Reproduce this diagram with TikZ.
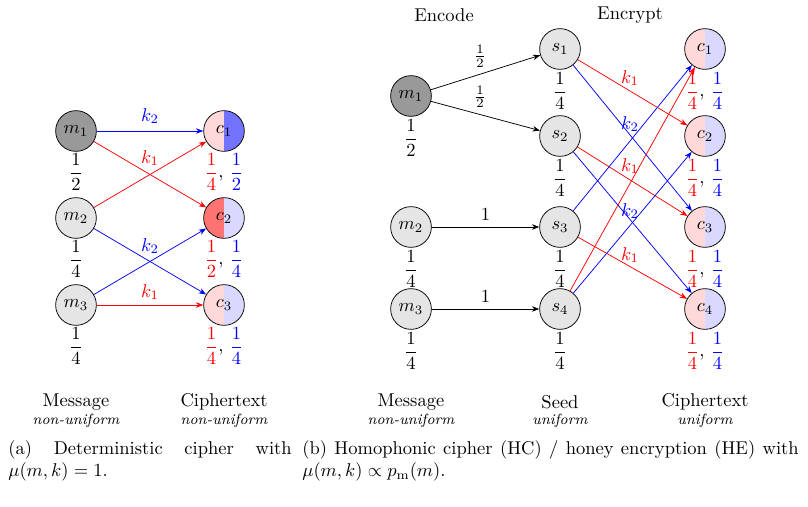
\documentclass[tikz,border=0pt]{standalone}
\usetikzlibrary{arrows.meta}
\begin{document}
\begin{tikzpicture}[x=0.54pt,y=-0.54pt,
  nd/.style={circle,draw,minimum size=22pt,inner sep=0pt,fill=gray!20},
  cnode/.style 2 args={circle,draw,minimum size=22pt,inner sep=0pt,
    path picture={\fill[#1] (path picture bounding box.south west) rectangle (path picture bounding box.north);
                  \fill[#2] (path picture bounding box.south) rectangle (path picture bounding box.north east);}},
  rd/.style={-{Stealth[length=4pt]},draw=red},
  bl/.style={-{Stealth[length=4pt]},draw=blue},
  ar/.style={-{Stealth[length=4pt]},draw=black}]
\useasboundingbox (0,0) rectangle (808,507);
\newcommand{\fr}[2]{\displaystyle\frac{#1}{#2}}
% ---- left
\node[nd,fill=gray!80] (lm1) at (76,131) {$m_1$};
\node[nd] (lm2) at (76,218) {$m_2$};
\node[nd] (lm3) at (76,305) {$m_3$};
\node[cnode={red!15}{blue!55}] (lc1) at (224,131) {$c_1$};
\node[cnode={red!55}{blue!15}] (lc2) at (224,218) {$c_2$};
\node[cnode={red!15}{blue!15}] (lc3) at (224,305) {$c_3$};
\node (lf1) at (76,172) {$\fr{1}{2}$};
\node (lf2) at (76,259) {$\fr{1}{4}$};
\node (lf3) at (76,346) {$\fr{1}{4}$};
\node (lg1) at (224,172) {$\color{red}\fr{1}{4}$, $\color{blue}\fr{1}{2}$};
\node (lg2) at (224,259) {$\color{red}\fr{1}{2}$, $\color{blue}\fr{1}{4}$};
\node (lg3) at (224,346) {$\color{red}\fr{1}{4}$, $\color{blue}\fr{1}{4}$};
\draw[bl] (lm1) -- (lc1);
\draw[rd] (lm1) -- (lc2);
\draw[rd] (lm2) -- (lc1);
\draw[bl] (lm2) -- (lc3);
\draw[bl] (lm3) -- (lc2);
\draw[rd] (lm3) -- (lc3);
\node[text=blue] (lk0) at (150,116) {$k_2$};
\node[text=red] (lk1) at (150,158) {$k_1$};
\node[text=blue] (lk2) at (150,246) {$k_2$};
\node[text=red] (lk3) at (150,292) {$k_1$};
\node (lt1) at (76,402) {Message};
\node (lt1b) at (76,421) {\footnotesize\itshape non-uniform};
\node (lt2) at (224,402) {Ciphertext};
\node (lt2b) at (224,421) {\footnotesize\itshape non-uniform};
% ---- right
\node (enc) at (444,15) {Encode};
\node (ecr) at (630,15) {Encrypt};
\node[nd,fill=gray!80] (m1) at (411,96) {$m_1$};
\node[nd] (m2) at (411,227) {$m_2$};
\node[nd] (m3) at (411,309) {$m_3$};
\foreach \i/\y in {1/49,2/136,3/227,4/309}{
  \node[nd] (s\i) at (560,\y) {$s_\i$};
  \node[cnode={red!15}{blue!15}] (c\i) at (705,\y) {$c_\i$};
  \node (sf\i) at (560,\y+42) {$\fr{1}{4}$};
  \node (cf\i) at (705,\y+42) {$\color{red}\fr{1}{4}$, $\color{blue}\fr{1}{4}$};
}
\node (mf1) at (411,138) {$\fr{1}{2}$};
\node (mf2) at (411,269) {$\fr{1}{4}$};
\node (mf3) at (411,351) {$\fr{1}{4}$};
\draw[ar] (m1) -- node[above,pos=0.45]{$\frac{1}{2}$} (s1);
\draw[ar] (m1) -- node[above,pos=0.45]{$\frac{1}{2}$} (s2);
\draw[ar] (m2) -- node[above]{1} (s3);
\draw[ar] (m3) -- node[above]{1} (s4);
\draw[rd] (s1) -- (c2);
\draw[bl] (s1) -- (c3);
\draw[rd] (s2) -- (c3);
\draw[bl] (s2) -- (c4);
\draw[rd] (s3) -- (c4);
\draw[bl] (s3) -- (c1);
\draw[rd] (s4) -- (c1);
\draw[bl] (s4) -- (c2);
\node[text=red] (k1a) at (630,78) {$k_1$};
\node[text=blue] (k2a) at (630,124) {$k_2$};
\node[text=red] (k1b) at (630,166) {$k_1$};
\node[text=blue] (k2b) at (630,211) {$k_2$};
\node[text=red] (k1c) at (630,255) {$k_1$};
\node (rt1) at (411,402) {Message};
\node (rt1b) at (411,421) {\footnotesize\itshape non-uniform};
\node (rt2) at (560,402) {Seed};
\node (rt2b) at (560,421) {\footnotesize\itshape uniform};
\node (rt3) at (705,402) {Ciphertext};
\node (rt3b) at (705,421) {\footnotesize\itshape uniform};
% captions
\node[anchor=north west,text width=153pt,align=justify,inner sep=0pt] (capa) at (8,440)
  {(a) Deterministic cipher with $\mu(m,k)=1$.};
\node[anchor=north west,text width=268pt,align=justify,inner sep=0pt] (capb) at (302,440)
  {(b) Homophonic cipher (HC) / honey encryption (HE) with $\mu(m,k)\propto p_{\mathrm{m}}(m)$.};
\end{tikzpicture}
\end{document}
